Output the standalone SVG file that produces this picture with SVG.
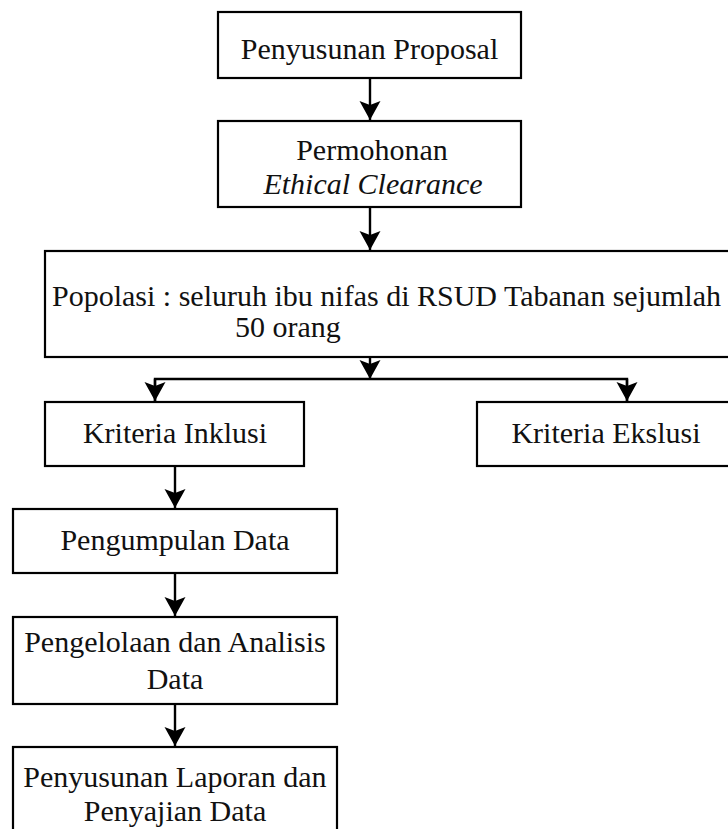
<svg xmlns="http://www.w3.org/2000/svg" width="728" height="829" viewBox="0 0 728 829">
<style>
.box{fill:#fff;stroke:#000;stroke-width:2.2}
.t{font-family:"Liberation Serif","Times New Roman",serif;font-size:30px;fill:#111}
.c{text-anchor:middle}
.i{font-style:italic}
.ln{fill:none;stroke:#000;stroke-width:2.4}
</style>
<defs>
<marker id="ah" markerUnits="userSpaceOnUse" markerWidth="22" markerHeight="22" refX="19" refY="10.5" orient="auto" overflow="visible">
<path d="M0,0 L19,10.5 L0,21 L4,10.5 Z" fill="#000"/>
</marker>
</defs>
<rect width="728" height="829" fill="#fff"/>
<g id="connectors">
<line class="ln" x1="370" y1="78" x2="370" y2="120" marker-end="url(#ah)"/>
<line class="ln" x1="370" y1="207" x2="370" y2="250" marker-end="url(#ah)"/>
<line class="ln" x1="370" y1="357" x2="370" y2="379" marker-end="url(#ah)"/>
<polyline class="ln" points="155,401 155,379 627,379 627,401"/>
<line class="ln" x1="155" y1="379" x2="155" y2="401" marker-end="url(#ah)"/>
<line class="ln" x1="627" y1="379" x2="627" y2="401" marker-end="url(#ah)"/>
<line class="ln" x1="175" y1="466" x2="175" y2="508" marker-end="url(#ah)"/>
<line class="ln" x1="175" y1="573" x2="175" y2="616" marker-end="url(#ah)"/>
<line class="ln" x1="175" y1="704" x2="175" y2="746" marker-end="url(#ah)"/>
</g>
<g id="n1">
<rect class="box" x="218" y="12" width="303" height="66"/>
<text class="t c" x="369.5" y="59">Penyusunan Proposal</text>
</g>
<g id="n2">
<rect class="box" x="218" y="121" width="303" height="86"/>
<text class="t c" x="372" y="160">Permohonan</text>
<text class="t c i" x="373" y="194">Ethical Clearance</text>
</g>
<g id="n3">
<rect class="box" x="45" y="251" width="690" height="106"/>
<text class="t" x="52" y="306">Popolasi : seluruh ibu nifas di RSUD Tabanan sejumlah</text>
<text class="t" x="235" y="337">50 orang</text>
</g>
<g id="n4">
<rect class="box" x="45" y="402" width="259" height="64"/>
<text class="t c" x="175" y="443">Kriteria Inklusi</text>
</g>
<g id="n5">
<rect class="box" x="477" y="402" width="258" height="64"/>
<text class="t c" x="606" y="443">Kriteria Ekslusi</text>
</g>
<g id="n6">
<rect class="box" x="13" y="509" width="324" height="64"/>
<text class="t c" x="175" y="550">Pengumpulan Data</text>
</g>
<g id="n7">
<rect class="box" x="13" y="617" width="324" height="87"/>
<text class="t c" x="175" y="652">Pengelolaan dan Analisis</text>
<text class="t c" x="175" y="689">Data</text>
</g>
<g id="n8">
<rect class="box" x="13" y="747" width="324" height="95"/>
<text class="t c" x="175" y="787">Penyusunan Laporan dan</text>
<text class="t c" x="175" y="821">Penyajian Data</text>
</g>
</svg>
